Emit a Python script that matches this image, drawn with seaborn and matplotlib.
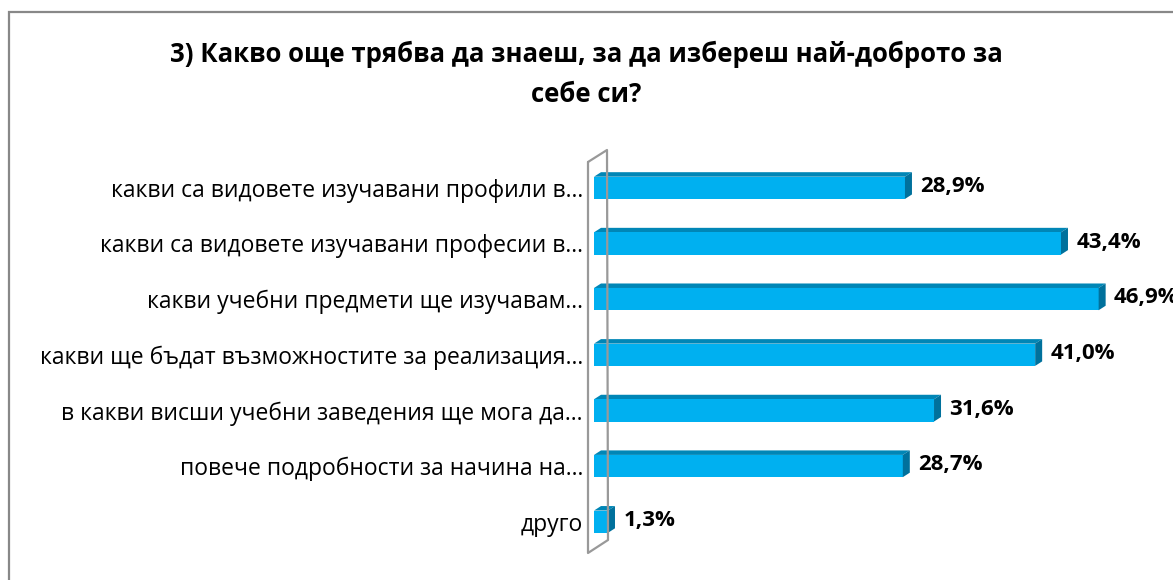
import matplotlib
matplotlib.use("Agg")
import matplotlib.pyplot as plt
import seaborn as sns
import pandas as pd
from matplotlib.patches import Rectangle, Polygon
from matplotlib.lines import Line2D

categories = [
    "какви са видовете изучавани профили в…",
    "какви са видовете изучавани професии в…",
    "какви учебни предмети ще изучавам…",
    "какви ще бъдат възможностите за реализация…",
    "в какви висши учебни заведения ще мога да…",
    "повече подробности за начина на…",
    "друго",
]
values = [28.9, 43.4, 46.9, 41.0, 31.6, 28.7, 1.3]
value_labels = ["28,9%", "43,4%", "46,9%", "41,0%", "31,6%", "28,7%", "1,3%"]
title_line1 = "3) Какво още трябва да знаеш, за да избереш най-доброто за"
title_line2 = "себе си?"

sns.set_theme(style="white")
plt.rcParams["font.family"] = ["Open Sans", "DejaVu Sans"]

W, H = 1173, 580
fig = plt.figure(figsize=(W / 100, H / 100), dpi=100)

# axes geometry in pixels
ax_left, ax_right, ax_top, ax_bottom = 594, 1173, 160, 549.5
ax = fig.add_axes([ax_left / W, 1 - ax_bottom / H, (ax_right - ax_left) / W, (ax_bottom - ax_top) / H])

df = pd.DataFrame({"cat": categories, "val": values})
front = "#00B0F0"
top_c = "#0086B6"
side_c = "#00719C"
sns.barplot(data=df, y="cat", x="val", orient="h", color=front, saturation=1,
            width=0.4, ax=ax, edgecolor="none", zorder=3)

px_per_x = 10.76
xmax = (ax_right - ax_left) / px_per_x
ax.set_xlim(0, xmax)
ax.set_ylim(6.5, -0.5)
px_per_y = (ax_bottom - ax_top) / 7.0

dx = 7 / px_per_x
dy = 4.5 / px_per_y
hw = 0.2
for i, v in enumerate(values):
    top = i - hw
    bot = i + hw
    # top face
    ax.add_patch(Polygon([(0, top), (v, top), (v + dx, top - dy), (dx, top - dy)],
                         closed=True, facecolor=top_c, edgecolor="none", zorder=2))
    # side face
    ax.add_patch(Polygon([(v, top), (v + dx, top - dy), (v + dx, bot - dy), (v, bot)],
                         closed=True, facecolor=side_c, edgecolor="none", zorder=4))
    ax.annotate(value_labels[i], xy=(v, i), xytext=(11, 1), textcoords="offset points",
                ha="left", va="center", fontsize=16, fontweight="bold", color="#000000",
                annotation_clip=False)

ax.set_xlabel("")
ax.set_ylabel("")
ax.set_xticks([])
for s in ax.spines.values():
    s.set_visible(False)
ax.tick_params(axis="y", length=0, pad=8, labelsize=16.5, labelcolor="#000000")

# wall (3D back plane outline)
def fx(px):
    return px / W

def fy(py):
    return 1 - py / H

wall_pts = [(588, 162), (607, 150), (608, 540), (588, 553), (588, 162)]
fig.add_artist(Line2D([fx(p[0]) for p in wall_pts], [fy(p[1]) for p in wall_pts],
                      transform=fig.transFigure, color="#999999", lw=1.6, zorder=1))

# figure border
fig.add_artist(Rectangle((fx(9), -0.1), 1.2, fy(12) + 0.1, transform=fig.transFigure,
                         facecolor="none", edgecolor="#888888", lw=1.6))

fig.text(fx(586), fy(54), title_line1, ha="center", va="center", fontsize=18.5,
         fontweight="bold", color="#000000")
fig.text(fx(586), fy(94), title_line2, ha="center", va="center", fontsize=18.5,
         fontweight="bold", color="#000000")

fig.savefig("out.png", dpi=100, facecolor="white")
